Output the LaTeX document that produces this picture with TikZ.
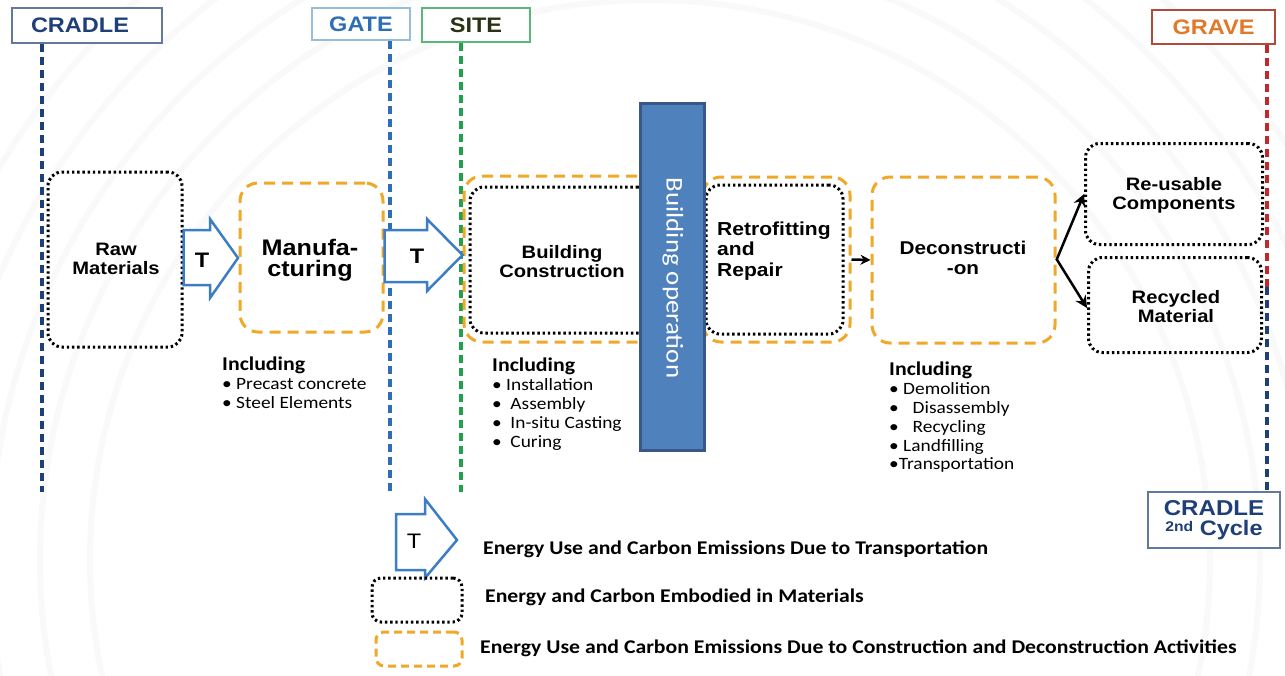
\documentclass[tikz,border=0pt]{standalone}
\usepackage{fontspec}
\setmainfont{Liberation Sans}[FakeStretch=1.12]
\newfontfamily\calib{Carlito}[FakeStretch=1.12]
\newcommand\inclhead{\calib\bfseries\fontsize{19.5}{18.8}\selectfont}
\usetikzlibrary{arrows.meta}
\definecolor{navy}{RGB}{31,63,120}
\definecolor{gateblue}{RGB}{46,110,180}
\definecolor{gateborder}{RGB}{150,190,220}
\definecolor{sitegreen}{RGB}{34,160,75}
\definecolor{sitetext}{RGB}{40,50,20}
\definecolor{gravered}{RGB}{192,40,46}
\definecolor{graveborder}{RGB}{176,74,58}
\definecolor{gravetext}{RGB}{226,120,40}
\definecolor{cradleborder}{RGB}{100,120,155}
\definecolor{orng}{RGB}{240,168,40}
\definecolor{tblue}{RGB}{60,125,196}
\definecolor{opfill}{RGB}{79,129,189}
\definecolor{opborder}{RGB}{56,88,135}
\begin{document}
\begin{tikzpicture}[x=1pt,y=-1pt,
  hdr/.style={draw, line width=1.5pt, fill=white, inner sep=0pt, font=\bfseries\fontsize{21}{21}\selectfont},
  vline/.style={line width=3.5pt, dash pattern=on 8pt off 5pt},
  dotbox/.style={draw=black, line width=3pt, dash pattern=on 2.4pt off 2.8pt, rounded corners=14pt, inner sep=0pt},
  dashbox/.style={draw=orng, line width=3pt, dash pattern=on 11pt off 7pt, rounded corners=18pt, inner sep=0pt},
  lbl/.style={font=\bfseries\fontsize{18}{19}\selectfont, align=center, inner sep=0pt},
  incl/.style={font=\calib\fontsize{17.3}{18.8}\selectfont, align=left, anchor=north west, inner sep=0pt},
  tarrow/.style={draw=tblue, line width=2.5pt, fill=white, line join=miter},
  blk/.style={line width=2.5pt, -{Stealth[length=12pt,width=12pt]}},
  leg/.style={font=\calib\bfseries\fontsize{19.4}{19}\selectfont, anchor=west, inner sep=0pt}]
\useasboundingbox (0,0) rectangle (1285,675);
\fill[white] (0,0) rectangle (1285,675);
% faint background rings
\begin{scope}
\clip (0,0) rectangle (1285,675);
\foreach \r in {560,610,660,710,760}
  \draw[black!2.5, line width=6pt] (650,560) circle[radius=\r];
\end{scope}

% headers
\node[hdr, draw=cradleborder, text=navy, minimum width=150pt, minimum height=35pt] (cradle) at (87,25.5) {CRADLE\kern14pt};
\node[hdr, draw=gateborder, text=gateblue, minimum width=98pt, minimum height=32pt] (gate) at (361,24) {GATE};
\node[hdr, draw=sitegreen!75, text=sitetext, minimum width=108pt, minimum height=34pt] (site) at (476,25) {SITE};
\node[hdr, draw=graveborder, text=gravetext, minimum width=123pt, minimum height=34pt] (grave) at (1213.5,27) {GRAVE};
\node[hdr, draw=cradleborder, text=navy, minimum width=132pt, minimum height=56pt, align=center] (cradle2) at (1214,520)
  {\fontsize{21.5}{22}\selectfont CRADLE\\[-1pt]{\fontsize{14}{14}\selectfont\raisebox{4pt}{2nd}} Cycle};

% vertical lines
\coordinate (cradleL) at (42,492);
\coordinate (gateL) at (390,492);
\coordinate (siteL) at (461,492);
\coordinate (graveM) at (1267,287);
\draw[vline, navy] (cradle.south -| cradleL) -- (cradleL);
\draw[vline, gateblue] (gate.south -| gateL) -- (gateL);
\draw[vline, sitegreen] (site.south -| siteL) -- (siteL);
\draw[vline, gravered] (grave.south -| graveM) -- (graveM);
\draw[vline, navy] (graveM) -- (cradle2.north -| graveM);

% boxes
\node[dotbox, minimum width=134pt, minimum height=175pt] (raw) at (115,259.5) {};
\node[lbl] (rawt) at (116,259) {Raw\\Materials};

\node[dashbox, minimum width=143pt, minimum height=149pt] (manu) at (311.5,257.5) {};
\node[lbl, font=\bfseries\fontsize{22.5}{21}\selectfont] (manut) at (310,260) {Manufa-\\cturing};

\node[dashbox, minimum width=191pt, minimum height=166pt] (bcO) at (559.5,259) {};
\node[dotbox, minimum width=182pt, minimum height=146pt] (bcD) at (561,260) {};
\node[lbl] (bct) at (562,262) {Building\\Construction};

\node[dashbox, minimum width=147pt, minimum height=165pt] (retroO) at (776.5,259.5) {};
\node[dotbox, minimum width=137pt, minimum height=149pt] (retroD) at (774.5,259.5) {};
\node[lbl, align=left, anchor=west, font=\bfseries\fontsize{18.8}{20.5}\selectfont] (retrot) at (717,251) {Retrofitting\\and\\Repair};

\node[dashbox, minimum width=183pt, minimum height=166pt] (decon) at (963.5,260) {};
\node[lbl, font=\bfseries\fontsize{18.5}{20}\selectfont] (decont) at (963,258) {Deconstructi\\-on};

\node[dotbox, minimum width=177pt, minimum height=101pt] (reuse) at (1174,194) {};
\node[lbl] (reuset) at (1174,195) {Re-usable\\Components};
\node[dotbox, minimum width=173pt, minimum height=95pt] (recyc) at (1175,305) {};
\node[lbl] (recyct) at (1176,307) {Recycled\\Material};

% building operation bar
\node[draw=opborder, fill=opfill, line width=3pt, minimum width=64pt, minimum height=347pt, inner sep=0pt] (op) at (672.5,277) {};
\node[rotate=-90, text=white, font=\calib\fontsize{24}{24}\selectfont, inner sep=0pt] (opt) at (673,278) {Building operation};

% transport arrows
\draw[tarrow] (raw.east |- 0,230) -- (210,230) -- (210,219) -- (238,258) -- (210,298) -- (210,285) -- (raw.east |- 0,285) -- cycle;
\node[font=\bfseries\fontsize{21}{21}\selectfont, inner sep=0pt] (t1) at (202,260) {T};
\draw[tarrow] (manu.east |- 0,230) -- (427,230) -- (427,219) -- (bcO.west |- 0,255) -- (427,291) -- (427,282) -- (manu.east |- 0,282) -- cycle;
\node[font=\bfseries\fontsize{21}{21}\selectfont, inner sep=0pt] (t2) at (417,256) {T};

% black arrows
\draw[blk, -{Stealth[length=10pt,width=10pt]}] (retroO.east) -- (decon.west);
\draw[blk] (decon.east) -- (reuse.west);
\draw[blk] ([yshift=1pt]decon.east) -- ([yshift=-3pt]recyc.west);

% including lists
\node[incl] (inc1) at (222,357) {{\inclhead Including}\\• Precast concrete\\• Steel Elements};
\node[incl] (inc2) at (492,358) {{\inclhead Including}\\• Installation\\•\hspace{0.5em}Assembly\\•\hspace{0.5em}In-situ Casting\\•\hspace{0.5em}Curing};
\node[incl] (inc3) at (889,362) {{\inclhead Including}\\• Demolition\\•\hspace{0.8em}Disassembly\\•\hspace{0.8em}Recycling\\• Landfilling\\•Transportation};

% legend
\draw[tarrow] (396,514) -- (425,514) -- (425,499) -- (457,540) -- (425,578) -- (425,570) -- (396,570) -- cycle;
\node[font=\fontsize{21}{21}\selectfont, inner sep=0pt] (tl) at (414,541) {T};
\node[dotbox, rounded corners=9pt, minimum width=90pt, minimum height=44pt] (legD) at (417,600) {};
\node[dashbox, rounded corners=8pt, dash pattern=on 8pt off 5pt, minimum width=86pt, minimum height=34pt] (legO) at (419,649) {};
\node[leg] (leg1) at (483,549) {Energy Use and Carbon Emissions Due to Transportation};
\node[leg] (leg2) at (485,597) {Energy and Carbon Embodied in Materials};
\node[leg] (leg3) at (480,648) {Energy Use and Carbon Emissions Due to Construction and Deconstruction Activities};
\end{tikzpicture}
\end{document}
